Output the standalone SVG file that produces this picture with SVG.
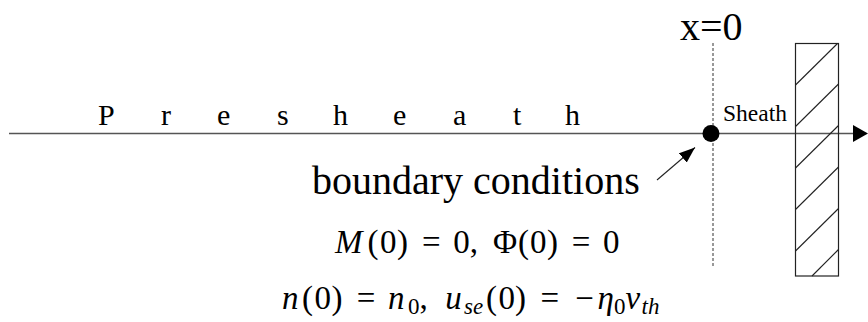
<svg xmlns="http://www.w3.org/2000/svg" width="868" height="322" viewBox="0 0 868 322">
<style>
  text { font-family: "Liberation Serif", "DejaVu Serif", "Noto Serif", Tinos, "Times New Roman", Times, serif; fill: #000; }
  .it { font-style: italic; }
  .sub { font-size: 23px; }
  .axis { stroke: #555; stroke-width: 1.6; fill: none; }
  .thin { stroke: #222; stroke-width: 1.1; fill: none; }
  .dash { stroke: #333; stroke-width: 1; stroke-dasharray: 3 2; fill: none; }
</style>
<defs>
  <marker id="bigHead" markerUnits="userSpaceOnUse" markerWidth="16" markerHeight="18" refX="0" refY="8.5" orient="auto">
    <path d="M0,0 L15,8.5 L0,17 Z" fill="#000"/>
  </marker>
  <marker id="smallHead" markerUnits="userSpaceOnUse" markerWidth="17" markerHeight="13" refX="16" refY="6" orient="auto">
    <path d="M0,0 L16,6 L0,12 Z" fill="#000"/>
  </marker>
</defs>
<rect width="868" height="322" fill="#fff"/>

<g id="connectors">
  <line id="axis" class="axis" x1="9" y1="133.5" x2="853" y2="133.5" marker-end="url(#bigHead)"/>
  <line id="x0-line" class="dash" x1="713" y1="43" x2="713" y2="267"/>
  <line id="pointer" class="thin" x1="657" y1="180" x2="695" y2="147.5" marker-end="url(#smallHead)"/>
</g>

<g id="presheath-label">
  <text font-family="Liberation Serif, DejaVu Serif, serif" font-size="30" y="125" x="98 161 217 277 333 393 453 513 565">Presheath</text>
</g>

<g id="x0-label">
  <text font-family="Liberation Serif, DejaVu Serif, serif" font-size="40" x="680" y="40">x=0</text>
</g>

<g id="boundary-point">
  <circle cx="711" cy="133.5" r="8.5" fill="#000"/>
</g>

<g id="sheath-label">
  <text font-family="Liberation Serif, DejaVu Serif, serif" font-size="23.5" x="723" y="121">Sheath</text>
</g>

<g id="wall">
  <rect x="795.5" y="43.5" width="43" height="232.5" fill="none" stroke="#222" stroke-width="1.2"/>
  <g class="thin">
    <line x1="795.5" y1="85" x2="837.5" y2="43.5"/>
    <line x1="795.5" y1="126.5" x2="838.5" y2="84"/>
    <line x1="795.5" y1="168" x2="838.5" y2="125.5"/>
    <line x1="795.5" y1="209.5" x2="838.5" y2="167"/>
    <line x1="795.5" y1="251" x2="838.5" y2="208.5"/>
    <line x1="812" y1="276" x2="838.5" y2="249.5"/>
  </g>
</g>

<g id="boundary-label">
  <text font-family="Liberation Serif, DejaVu Serif, serif" font-size="40" x="312" y="194">boundary conditions</text>
</g>

<g id="formulas">
  <text font-family="Liberation Serif, DejaVu Serif, serif" font-size="33" y="253">
    <tspan class="it" x="335">M</tspan><tspan x="367.5">(</tspan><tspan x="380">0</tspan><tspan x="397">)</tspan><tspan x="422">=</tspan><tspan x="453.3">0,</tspan><tspan x="493">Φ</tspan><tspan x="518">(</tspan><tspan x="530">0</tspan><tspan x="547">)</tspan><tspan x="571.7">=</tspan><tspan x="603">0</tspan>
  </text>
  <text font-family="Liberation Serif, DejaVu Serif, serif" font-size="33" y="309">
    <tspan class="it" x="282">n</tspan><tspan x="302">(</tspan><tspan x="314.6">0</tspan><tspan x="331.5">)</tspan><tspan x="356.7">=</tspan><tspan class="it" x="388">n</tspan><tspan class="sub" x="407.9" y="314">0</tspan><tspan x="419.5" y="309">,</tspan><tspan class="it" x="445.2">u</tspan><tspan class="it sub" x="464.1" y="314">se</tspan><tspan x="486" y="309">(</tspan><tspan x="498.5">0</tspan><tspan x="515">)</tspan><tspan x="540.4">=</tspan><tspan x="575.3">−</tspan><tspan class="it" x="597.5">η</tspan><tspan class="sub" x="613.9" y="314">0</tspan><tspan class="it" x="625.5" y="309">v</tspan><tspan class="it sub" x="641.5" y="314">th</tspan>
  </text>
</g>
</svg>
